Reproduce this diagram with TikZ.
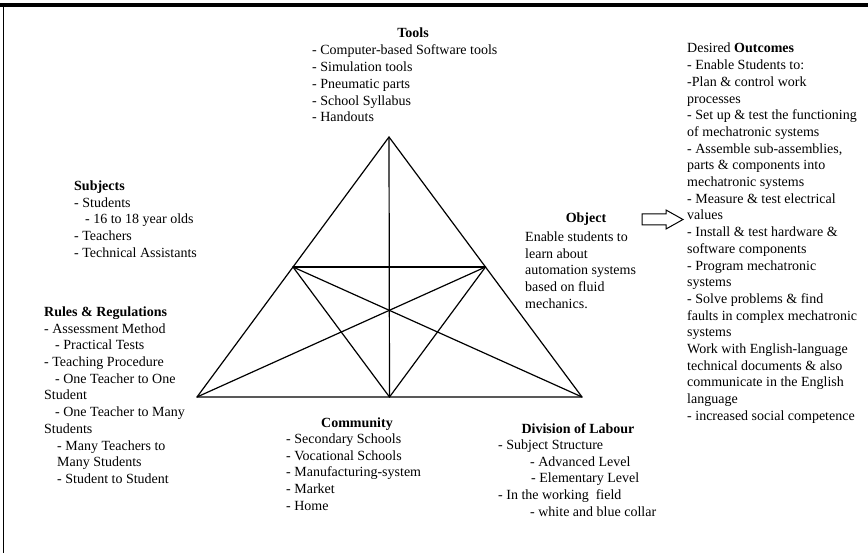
\documentclass[tikz,border=0pt]{standalone}
\usepackage{fontspec}
\setmainfont{Liberation Serif}
\usetikzlibrary{calc}
\newcommand\blk[1]{\begin{tabular}[t]{@{}l@{}}#1\end{tabular}}
\begin{document}
\begin{tikzpicture}[x=1pt,y=-1pt,
  txt/.style={inner sep=0pt, anchor=base west, font=\fontsize{14}{16.7}\selectfont},
  ttl/.style={inner sep=0pt, anchor=base, font=\fontsize{14}{16.7}\selectfont\bfseries},
  edge/.style={line width=1.2pt, line cap=round, line join=round},
  frame/.style={line width=1.2pt},
  blockarrow/.style={line width=1pt, line join=miter}]
\useasboundingbox (0,0) rectangle (868,553);
% frame
\draw[line width=4pt] (0,5) -- (868,5);
\draw[frame] (3.5,5) -- (3.5,553);
% triangle
\coordinate (A) at (389,137);
\coordinate (BL) at (197,397);
\coordinate (BR) at (582,397);
\coordinate (ML) at ($(A)!0.5!(BL)$);
\coordinate (MR) at ($(A)!0.5!(BR)$);
\coordinate (BM) at ($(BL)!0.5!(BR)$);
\draw[edge] (A) -- (BL) -- (BR) -- cycle;
\draw[edge] (ML) -- (MR);
\draw[edge] (A) -- (BM);
\draw[edge] (ML) -- (BM);
\draw[edge] (MR) -- (BM);
\draw[edge] (ML) -- (BR);
\draw[edge] (MR) -- (BL);
% block arrow
\draw[blockarrow] (642,214) -- (666,214) -- (666,210) -- (683,219.5) -- (666,229) -- (666,225) -- (642,225) -- cycle;
% Tools
\node[ttl] (toolsT) at (413,38) {Tools};
\node[txt] (tools) at (312,55) {\blk{- Computer-based Software tools\\- Simulation tools\\- Pneumatic parts\\- School Syllabus\\- Handouts}};
% Subjects
\node[txt] (subj) at (74,190.5) {\blk{\textbf{Subjects}\\- Students\\\hspace*{11pt}- 16 to 18 year olds\\- Teachers\\- Technical Assistants}};
% Rules
\node[txt] (rules) at (44,316.5) {\blk{\textbf{Rules \& Regulations}\\- Assessment Method\\\hspace*{11pt}- Practical Tests\\- Teaching Procedure\\\hspace*{11pt}- One Teacher to One\\Student\\\hspace*{11pt}- One Teacher to Many\\Students\\\hspace*{13pt}- Many Teachers to\\\hspace*{13pt}Many Students\\\hspace*{13pt}- Student to Student}};
% Community
\node[ttl] (commT) at (357,427.5) {Community};
\node[txt] (comm) at (286,443.5) {\blk{- Secondary Schools\\- Vocational Schools\\- Manufacturing-system\\- Market\\- Home}};
% Division of Labour
\node[ttl] (divT) at (578,433) {Division of Labour};
\node[txt] (div) at (498,449.5) {\blk{- Subject Structure\\\hspace*{32pt}- Advanced Level\\\hspace*{33pt}- Elementary Level\\- In the working~ field\\\hspace*{32pt}- white and blue collar}};
% Object
\node[ttl] (objT) at (586,222.5) {Object};
\node[txt] (obj) at (525,241.5) {\blk{Enable students to\\learn about\\automation systems\\based on fluid\\mechanics.}};
% Desired outcomes
\node[txt] (out) at (687,53) {\blk{Desired \textbf{Outcomes}\\- Enable Students to:\\-Plan \& control work\\processes\\- Set up \& test the functioning\\of mechatronic systems\\- Assemble sub-assemblies,\\parts \& components into\\mechatronic systems\\- Measure \& test electrical\\values\\- Install \& test hardware \&\\software components\\- Program mechatronic\\systems\\- Solve problems \& find\\faults in complex mechatronic\\systems\\Work with English-language\\technical documents \& also\\communicate in the English\\language\\- increased social competence}};
\end{tikzpicture}
\end{document}
